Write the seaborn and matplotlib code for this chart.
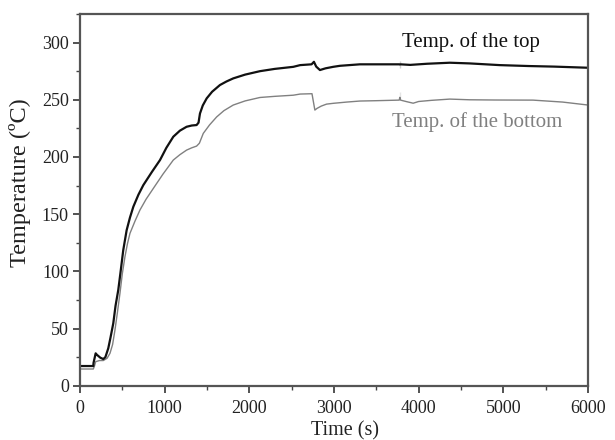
import matplotlib
matplotlib.use("Agg")
import matplotlib.pyplot as plt
import seaborn as sns
import pandas as pd
from matplotlib.ticker import MultipleLocator

# ---- data ----
time_top = [0, 157, 160, 185, 200, 240, 275, 300, 334, 360, 393, 420, 452, 480, 511, 551, 590,
            630, 690, 748, 850, 945, 1020, 1102, 1180, 1259, 1320, 1377, 1400, 1417, 1450, 1496,
            1560, 1653, 1730, 1810, 1950, 2125, 2300, 2519, 2600, 2735, 2763, 2790, 2834, 2900,
            2990, 3070, 3306, 3500, 3770, 3778, 3778, 3778, 3786, 3900, 4100, 4368, 4600, 4959,
            5300, 5600, 6000]
temp_top = [17.2, 17.2, 20, 28.3, 27, 24.5, 23.3, 25, 32.7, 42, 54.5, 70, 83.7, 100, 118.6, 136, 147,
            156.5, 167, 175.4, 187, 197.3, 208, 217.7, 223, 226.4, 227.5, 227.9, 230, 238, 245, 251.2,
            257, 262.9, 266, 268.7, 272, 275, 277, 278.8, 280.3, 281, 283.2, 279, 276, 277.5,
            278.8, 279.7, 281, 281, 281, 281, 284, 277.5, 281, 280.5, 281.5, 282.4, 281.8, 280.3,
            279.5, 279, 278]

time_bottom = [0, 157, 170, 185, 230, 275, 320, 354, 385, 413, 440, 472, 500, 531, 560, 590, 650,
               708, 780, 866, 980, 1102, 1180, 1259, 1320, 1377, 1410, 1456, 1530, 1614, 1700, 1810,
               1950, 2125, 2300, 2519, 2600, 2740, 2774, 2800, 2850, 2912, 2991, 3150, 3306, 3500,
               3770, 3778, 3778, 3778, 3786, 3850, 3935, 4000, 4150, 4368, 4600, 4900, 5350, 5700,
               6000]
temp_bottom = [14.6, 14.6, 17, 21, 22, 22, 24, 28.3, 36, 48.7, 63, 80.8, 98, 112.8, 124, 133.2, 144,
               153.6, 163, 172.5, 185, 197.3, 202, 206, 208, 209.5, 212, 220.6, 228, 235, 240.5, 245.4,
               249, 252, 253, 254, 255, 255.3, 241, 242.5, 244.5, 246.2, 246.9, 248, 248.9, 249.2,
               249.7, 249.7, 257, 249.7, 249.7, 248.5, 247, 248.5, 249.5, 250.6, 250, 249.8, 249.7, 248,
               245.4]

label_top = "Temp. of the top"
label_bottom = "Temp. of the bottom"
x_label = "Time (s)"
y_label = "Temperature (ºC)"

df_top = pd.DataFrame({"Time": time_top, "Temp": temp_top})
df_bottom = pd.DataFrame({"Time": time_bottom, "Temp": temp_bottom})

sns.set_theme(style="ticks")
plt.rcParams["font.family"] = ["Liberation Serif", "DejaVu Serif"]

fig = plt.figure(figsize=(6.15, 4.40), dpi=100)
ax = fig.add_axes([80 / 615, 1 - 385.7 / 440, (588 - 80) / 615, (385.7 - 14) / 440])

sns.lineplot(data=df_bottom, x="Time", y="Temp", ax=ax, color="#808080", linewidth=1.0, sort=False)
sns.lineplot(data=df_top, x="Time", y="Temp", ax=ax, color="#111111", linewidth=1.6, sort=False)

ax.set_xlim(0, 6000)
ax.set_ylim(0, 325)
ax.xaxis.set_major_locator(MultipleLocator(1000))
ax.xaxis.set_minor_locator(MultipleLocator(500))
ax.yaxis.set_major_locator(MultipleLocator(50))
ax.yaxis.set_minor_locator(MultipleLocator(25))
ax.yaxis.set_major_formatter(matplotlib.ticker.FuncFormatter(lambda v, p: f"{int(v)}" if v <= 300 else ""))

ax.tick_params(axis="both", which="major", direction="out", length=5, width=1.3,
               color="#444444", labelsize=13, labelcolor="#222222")
ax.tick_params(axis="y", which="major", pad=3)
ax.tick_params(axis="x", which="major", pad=5)
ax.tick_params(axis="both", which="minor", direction="out", length=3, width=1.0, color="#444444")
for s in ax.spines.values():
    s.set_visible(True)
    s.set_color("#555555")
    s.set_linewidth(1.6)

ax.set_xlabel(x_label, fontsize=14.5, color="#222222")
ax.xaxis.set_label_coords(0.522, -0.095)
ax.set_ylabel(y_label, fontsize=17.5, color="#222222")
ax.yaxis.set_label_coords(-0.096, 0.545)

ax.text(3798, 296.3, label_top, fontsize=15, color="#111111", ha="left", va="baseline")
ax.text(3680, 226.4, label_bottom, fontsize=15, color="#808080", ha="left", va="baseline")

fig.savefig("out.png", dpi=100)
